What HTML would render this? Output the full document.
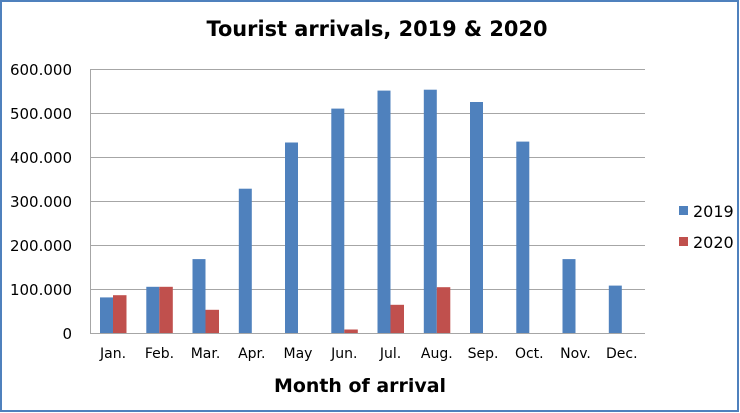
<!DOCTYPE html>
<html><head><meta charset="utf-8"><style>
html,body{margin:0;padding:0;background:#fff}
svg{display:block}
text{font-family:"DejaVu Sans","Liberation Sans",sans-serif;fill:#000}
</style></head><body>
<svg width="740" height="413" viewBox="0 0 740 413" xmlns="http://www.w3.org/2000/svg">
<rect x="0" y="0" width="740" height="413" fill="#fff"/>
<rect x="1" y="1" width="737" height="410" fill="none" stroke="#4f81bd" stroke-width="2"/>
<text x="377" y="36" text-anchor="middle" font-size="21" font-weight="bold" textLength="341" lengthAdjust="spacingAndGlyphs">Tourist arrivals, 2019 &amp; 2020</text>
<g stroke="#a6a6a6" stroke-width="1">
<line x1="90" y1="69.5" x2="645" y2="69.5"/>
<line x1="90" y1="113.5" x2="645" y2="113.5"/>
<line x1="90" y1="157.5" x2="645" y2="157.5"/>
<line x1="90" y1="201.5" x2="645" y2="201.5"/>
<line x1="90" y1="245.5" x2="645" y2="245.5"/>
<line x1="90" y1="289.5" x2="645" y2="289.5"/>
<line x1="90" y1="333.5" x2="645" y2="333.5"/>
<line x1="90.5" y1="69" x2="90.5" y2="334"/>
</g>
<g font-size="15" text-anchor="end">
<text x="72" y="75">600.000</text>
<text x="72" y="119">500.000</text>
<text x="72" y="163">400.000</text>
<text x="72" y="207">300.000</text>
<text x="72" y="251">200.000</text>
<text x="72" y="295">100.000</text>
<text x="72" y="339">0</text>
</g>
<g fill="#4f81bd">
<rect x="100" y="297.4" width="13" height="35.6"/>
<rect x="146.3" y="286.8" width="13" height="46.2"/>
<rect x="192.5" y="259.1" width="13" height="73.9"/>
<rect x="238.8" y="188.7" width="13" height="144.3"/>
<rect x="285" y="142.5" width="13" height="190.5"/>
<rect x="331.3" y="108.6" width="13" height="224.4"/>
<rect x="377.5" y="90.6" width="13" height="242.4"/>
<rect x="423.8" y="89.7" width="13" height="243.3"/>
<rect x="470" y="102" width="13" height="231"/>
<rect x="516.3" y="141.6" width="13" height="191.4"/>
<rect x="562.5" y="259.1" width="13" height="73.9"/>
<rect x="608.8" y="285.6" width="13" height="47.4"/>
</g>
<g fill="#c0504d">
<rect x="113" y="295.2" width="13.5" height="37.8"/>
<rect x="159.3" y="286.8" width="13.5" height="46.2"/>
<rect x="205.5" y="309.8" width="13.5" height="23.2"/>
<rect x="344.3" y="329.5" width="13.5" height="3.5"/>
<rect x="390.5" y="304.8" width="13.5" height="28.2"/>
<rect x="436.8" y="287.2" width="13.5" height="45.8"/>
</g>
<g font-size="14" text-anchor="middle">
<text x="113" y="358">Jan.</text>
<text x="159.5" y="358">Feb.</text>
<text x="205.5" y="358">Mar.</text>
<text x="251.8" y="358">Apr.</text>
<text x="298" y="358">May</text>
<text x="344.3" y="358">Jun.</text>
<text x="390.5" y="358">Jul.</text>
<text x="436.8" y="358">Aug.</text>
<text x="483" y="358">Sep.</text>
<text x="529.3" y="358">Oct.</text>
<text x="575.5" y="358">Nov.</text>
<text x="621.8" y="358">Dec.</text>
</g>
<text x="360" y="392" text-anchor="middle" font-size="19" font-weight="bold" textLength="172" lengthAdjust="spacingAndGlyphs">Month of arrival</text>
<rect x="679" y="206" width="9" height="9" fill="#4f81bd"/>
<text x="693" y="217" font-size="16">2019</text>
<rect x="679" y="237" width="9" height="9" fill="#c0504d"/>
<text x="693" y="248" font-size="16">2020</text>
</svg>
</body></html>
